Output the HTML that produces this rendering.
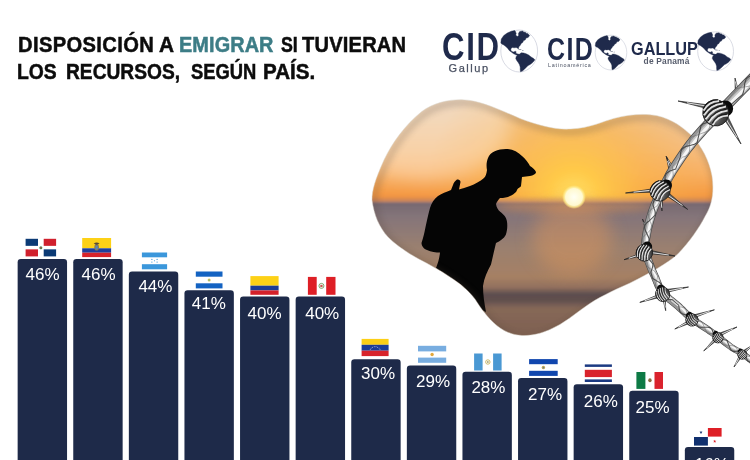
<!DOCTYPE html>
<html lang="es">
<head>
<meta charset="utf-8">
<title>Disposición a emigrar si tuvieran los recursos, según país</title>
<style>
html,body{margin:0;padding:0;background:#fff;}
body{width:750px;height:460px;overflow:hidden;position:relative;font-family:"Liberation Sans",sans-serif;}
#stage{position:absolute;left:0;top:0;width:750px;height:460px;overflow:hidden;background:#fff;}
#gfx{position:absolute;left:0;top:0;}
h1{position:absolute;margin:0;left:0;top:0;font-weight:bold;font-size:21.2px;line-height:24px;color:#0c0c0c;white-space:nowrap;-webkit-text-stroke:0.5px currentColor;}
h1 span{position:absolute;display:block;transform-origin:0 0;}
h1 em{font-style:normal;color:#3d7d86;}
.pct{position:absolute;width:60px;margin-left:-30px;text-align:center;color:#fff;font-size:17px;line-height:17px;}
.lg{position:absolute;white-space:nowrap;color:#1f2a4b;font-weight:bold;transform-origin:0 0;}
.sub{position:absolute;white-space:nowrap;color:#4b5263;transform-origin:0 0;}
</style>
</head>
<body>
<div id="stage">
<svg id="gfx" width="750" height="460" viewBox="0 0 750 460">
<defs>
<linearGradient id="sky" x1="0" y1="0" x2="0" y2="1">
<stop offset="0" stop-color="#e2cab2"/><stop offset="0.3" stop-color="#eec9a2"/><stop offset="0.55" stop-color="#f5c088"/><stop offset="0.75" stop-color="#f8b168"/><stop offset="0.9" stop-color="#f59d48"/><stop offset="1" stop-color="#ef8c3a"/>
</linearGradient>
<radialGradient id="glow" cx="574" cy="197" r="150" gradientUnits="userSpaceOnUse">
<stop offset="0" stop-color="#ffe066"/><stop offset="0.18" stop-color="#ffca48" stop-opacity="0.97"/><stop offset="0.5" stop-color="#fbb548" stop-opacity="0.62"/><stop offset="1" stop-color="#f6a545" stop-opacity="0"/>
</radialGradient>
<linearGradient id="sea" x1="0" y1="0" x2="0" y2="1">
<stop offset="0" stop-color="#766870"/><stop offset="0.1" stop-color="#85757a"/><stop offset="0.3" stop-color="#9a8070"/><stop offset="0.5" stop-color="#a68064"/><stop offset="0.57" stop-color="#91705e"/><stop offset="0.615" stop-color="#5c4d4f"/><stop offset="0.655" stop-color="#61504e"/><stop offset="0.71" stop-color="#866858"/><stop offset="0.85" stop-color="#806252"/><stop offset="1" stop-color="#8e6a54"/>
</linearGradient>
<radialGradient id="sun" cx="574" cy="197" r="12" gradientUnits="userSpaceOnUse">
<stop offset="0" stop-color="#fffff4"/><stop offset="0.7" stop-color="#fff9d0"/><stop offset="0.85" stop-color="#ffeb8c" stop-opacity="0.8"/><stop offset="1" stop-color="#ffe27a" stop-opacity="0"/>
</radialGradient>
<filter id="b4" x="-20%" y="-100%" width="140%" height="300%"><feGaussianBlur stdDeviation="4"/></filter>
<filter id="b2" x="-10%" y="-10%" width="120%" height="120%"><feGaussianBlur stdDeviation="3"/></filter>
<filter id="b1" x="-5%" y="-5%" width="110%" height="110%"><feGaussianBlur stdDeviation="1.3"/></filter>
<linearGradient id="haze" x1="0" y1="0" x2="0" y2="1"><stop offset="0" stop-color="#b07f6e" stop-opacity="0"/><stop offset="1" stop-color="#a07a78" stop-opacity="0.75"/></linearGradient>
<filter id="b8" x="-50%" y="-50%" width="200%" height="200%"><feGaussianBlur stdDeviation="9"/></filter>
<clipPath id="blob"><path d="M372,200 C372,190 375,180 384,160 C392,143 405,125 421.5,111.7 C433,103 448,99.5 461.6,99.7 C480,100 500,110 520,118.5 C540,126 556,130 571,129 C590,128 604,121 614,118.4 C630,114 645,113.5 657,115.7 C672,119 684,128 691.7,135.8 C702,147 709,160 712,176 C714,190 713,204 705,216.4 C699,228 690,241 678,253.8 C668,263 650,273 630,283 C612,291 597,298 584.8,307 C572,316 565,322 557,326 C546,332 534,336 522,335.5 C508,335 498,327 492.8,322 C486,315 482,310 475,299 C468,290 462,285 450,277 C440,270 430,265 418.8,259 C406,252 395,244 388,237 C379,227 374,215 372,200 Z"/></clipPath>
</defs>
<g clip-path="url(#blob)">
<g filter="url(#b1)">
<rect x="350" y="85" width="390" height="118" fill="url(#sky)"/>
<rect x="350" y="85" width="390" height="118" fill="url(#glow)"/>
<ellipse cx="425" cy="125" rx="85" ry="55" fill="#fff3e2" opacity="0.35" filter="url(#b8)"/>
<rect x="350" y="202" width="390" height="150" fill="url(#sea)"/>
<rect x="350" y="196" width="390" height="7" fill="url(#haze)"/>
</g>
<ellipse cx="574" cy="206" rx="80" ry="7" fill="#e89a58" opacity="0.45" filter="url(#b4)"/>
<ellipse cx="572" cy="238" rx="40" ry="36" fill="#e89a58" opacity="0.4" filter="url(#b8)"/>
<circle cx="574" cy="197" r="12" fill="url(#sun)"/>
<path d="M506,149 C498,149 490,152 488,158 C486,163 486.5,167 487,170 C486.5,174 485.5,176.5 484,178 C480,181.5 475,184 470,186 C466,187.5 462,188.5 459,189.5 L460.5,182 C460.5,180 458.5,179 457,179.6 C455,181 453.5,183 453,185 L451,190 C446,192 442,193.5 438,196 C434,199 431.5,203 430,208 C428,215 426,225 424.5,232 C423.5,237 422,241 421.5,243 C421.5,246 424,249 427,250 C431,252 436,252.5 440,252.5 C439.5,258 438,263 436,268 L445,275 L460,284 L472,296 L482,310 L486,312 C484.5,304 483,295 483,286 C484,278 487.5,271 491,264.5 C493,256 494.5,249 496,243 C500,241 504,238.5 505.7,235 C507.5,230 507.5,225 507,221.7 C506.5,217 503,214 500.5,212 C498,210 496.5,207.5 496,204 C497,201.5 498.5,199.5 500,198 C504,198 507.5,197.5 510,196 C512.5,195 514.5,193.5 516,192 C517,190.5 517,189.5 518,188.5 C519.5,187.5 520.5,187 521,186 C521.5,183 521.5,180 522,177 L530,176 C533,175.5 536,174 536,172 C535,169.5 532.5,167.5 530,166 C528,162 525.5,159 522,156 C518,152 512,149 506,149 Z" fill="#050505"/>
<path d="M372,200 C372,190 375,180 384,160 C392,143 405,125 421.5,111.7 C433,103 448,99.5 461.6,99.7 C480,100 500,110 520,118.5 C540,126 556,130 571,129 C590,128 604,121 614,118.4 C630,114 645,113.5 657,115.7 C672,119 684,128 691.7,135.8 C702,147 709,160 712,176 C714,190 713,204 705,216.4 C699,228 690,241 678,253.8 C668,263 650,273 630,283 C612,291 597,298 584.8,307 C572,316 565,322 557,326 C546,332 534,336 522,335.5 C508,335 498,327 492.8,322 C486,315 482,310 475,299 C468,290 462,285 450,277 C440,270 430,265 418.8,259 C406,252 395,244 388,237 C379,227 374,215 372,200 Z" transform="translate(2.2,2.8)" fill="none" stroke="#4b4038" stroke-width="6" opacity="0.24" filter="url(#b2)"/>
</g>
<path d="M372,200 C372,190 375,180 384,160 C392,143 405,125 421.5,111.7 C433,103 448,99.5 461.6,99.7 C480,100 500,110 520,118.5 C540,126 556,130 571,129 C590,128 604,121 614,118.4 C630,114 645,113.5 657,115.7 C672,119 684,128 691.7,135.8 C702,147 709,160 712,176 C714,190 713,204 705,216.4 C699,228 690,241 678,253.8 C668,263 650,273 630,283 C612,291 597,298 584.8,307 C572,316 565,322 557,326 C546,332 534,336 522,335.5 C508,335 498,327 492.8,322 C486,315 482,310 475,299 C468,290 462,285 450,277 C440,270 430,265 418.8,259 C406,252 395,244 388,237 C379,227 374,215 372,200 Z" fill="none" stroke="#d9d2c8" stroke-width="0.8" opacity="0.6"/>
<path d="M17.65,462 V262.20 Q17.65,259.00 20.85,259.00 H63.85 Q67.05,259.00 67.05,262.20 V462 Z" fill="#1e2a49"/>
<path d="M73.25,462 V262.20 Q73.25,259.00 76.45,259.00 H119.45 Q122.65,259.00 122.65,262.20 V462 Z" fill="#1e2a49"/>
<path d="M128.85,462 V274.74 Q128.85,271.54 132.05,271.54 H175.05 Q178.25,271.54 178.25,274.74 V462 Z" fill="#1e2a49"/>
<path d="M184.45,462 V293.54 Q184.45,290.34 187.65,290.34 H230.65 Q233.85,290.34 233.85,293.54 V462 Z" fill="#1e2a49"/>
<path d="M240.05,462 V299.81 Q240.05,296.61 243.25,296.61 H286.25 Q289.45,296.61 289.45,299.81 V462 Z" fill="#1e2a49"/>
<path d="M295.65,462 V299.81 Q295.65,296.61 298.85,296.61 H341.85 Q345.05,296.61 345.05,299.81 V462 Z" fill="#1e2a49"/>
<path d="M351.25,462 V362.49 Q351.25,359.29 354.45,359.29 H397.45 Q400.65,359.29 400.65,362.49 V462 Z" fill="#1e2a49"/>
<path d="M406.85,462 V368.76 Q406.85,365.56 410.05,365.56 H453.05 Q456.25,365.56 456.25,368.76 V462 Z" fill="#1e2a49"/>
<path d="M462.45,462 V375.02 Q462.45,371.82 465.65,371.82 H508.65 Q511.85,371.82 511.85,375.02 V462 Z" fill="#1e2a49"/>
<path d="M518.05,462 V381.29 Q518.05,378.09 521.25,378.09 H564.25 Q567.45,378.09 567.45,381.29 V462 Z" fill="#1e2a49"/>
<path d="M573.65,462 V387.56 Q573.65,384.36 576.85,384.36 H619.85 Q623.05,384.36 623.05,387.56 V462 Z" fill="#1e2a49"/>
<path d="M629.25,462 V393.83 Q629.25,390.63 632.45,390.63 H675.45 Q678.65,390.63 678.65,393.83 V462 Z" fill="#1e2a49"/>
<path d="M684.85,462 V450.24 Q684.85,447.04 688.05,447.04 H731.05 Q734.25,447.04 734.25,450.24 V462 Z" fill="#1e2a49"/>
<g id="f-do">
<rect x="25.60" y="238.80" width="30.50" height="17.60" fill="#ffffff"/>
<rect x="25.60" y="238.80" width="12.40" height="7.05" fill="#0b3a75"/>
<rect x="43.70" y="238.80" width="12.40" height="7.05" fill="#d0202d"/>
<rect x="25.60" y="249.35" width="12.40" height="7.05" fill="#d0202d"/>
<rect x="43.70" y="249.35" width="12.40" height="7.05" fill="#0b3a75"/>
<circle cx="40.85" cy="247.80" r="1.5" fill="#3f8a55"/><circle cx="40.85" cy="247.70" r="0.7" fill="#c9403f"/>
</g>
<g id="f-ec">
<rect x="82.20" y="238.00" width="28.90" height="10.30" fill="#fdd116"/>
<rect x="82.20" y="248.30" width="28.90" height="4.40" fill="#1f3f9b"/>
<rect x="82.20" y="252.70" width="28.90" height="4.40" fill="#d8232a"/>
<ellipse cx="96.65" cy="247.2" rx="2.3" ry="3.4" fill="#8b7a55"/><ellipse cx="96.65" cy="247.4" rx="1.3" ry="2" fill="#5a86b5"/><path d="M93.65,243.6 Q96.65,241.6 99.65,243.6 L96.65,244.8 Z" fill="#5b4a33"/>
</g>
<g id="f-hn">
<rect x="141.90" y="252.50" width="25.20" height="16.80" fill="#ffffff"/>
<rect x="141.90" y="252.50" width="25.20" height="4.80" fill="#3b97db"/>
<rect x="141.90" y="264.20" width="25.20" height="5.10" fill="#3b97db"/>
<circle cx="154.50" cy="260.75" r="0.6" fill="#3b97db"/>
<circle cx="151.90" cy="259.45" r="0.6" fill="#3b97db"/>
<circle cx="157.10" cy="259.45" r="0.6" fill="#3b97db"/>
<circle cx="151.90" cy="262.05" r="0.6" fill="#3b97db"/>
<circle cx="157.10" cy="262.05" r="0.6" fill="#3b97db"/>
</g>
<g id="f-ni">
<rect x="195.80" y="271.50" width="26.70" height="16.90" fill="#ffffff"/>
<rect x="195.80" y="271.50" width="26.70" height="5.20" fill="#1463c2"/>
<rect x="195.80" y="283.30" width="26.70" height="5.10" fill="#1463c2"/>
<circle cx="209.15" cy="280" r="1.5" fill="#d9c25a"/><path d="M208.15,280.8 L209.15,279 L210.15,280.8 Z" fill="#7fb77a"/>
</g>
<g id="f-co">
<rect x="250.40" y="276.10" width="28.20" height="9.60" fill="#fdd116"/>
<rect x="250.40" y="285.70" width="28.20" height="4.70" fill="#1d3c94"/>
<rect x="250.40" y="290.40" width="28.20" height="4.40" fill="#d4212a"/>
</g>
<g id="f-pe">
<rect x="307.90" y="276.90" width="27.60" height="17.90" fill="#ffffff"/>
<rect x="307.90" y="276.90" width="8.80" height="17.90" fill="#de1f26"/>
<rect x="326.20" y="276.90" width="9.30" height="17.90" fill="#de1f26"/>
<circle cx="321.45" cy="285.9" r="2.5" fill="none" stroke="#6f9d5b" stroke-width="0.9"/><circle cx="321.45" cy="286" r="1.3" fill="#c7564d"/>
</g>
<g id="f-ve">
<rect x="361.60" y="338.90" width="27.00" height="5.90" fill="#fccf16"/>
<rect x="361.60" y="344.80" width="27.00" height="5.90" fill="#1c3c96"/>
<rect x="361.60" y="350.70" width="27.00" height="5.40" fill="#d8232b"/>
<circle cx="370.21" cy="349.27" r="0.45" fill="#ffffff"/>
<circle cx="371.12" cy="348.09" r="0.45" fill="#ffffff"/>
<circle cx="372.50" cy="347.22" r="0.45" fill="#ffffff"/>
<circle cx="374.20" cy="346.76" r="0.45" fill="#ffffff"/>
<circle cx="376.00" cy="346.76" r="0.45" fill="#ffffff"/>
<circle cx="377.70" cy="347.22" r="0.45" fill="#ffffff"/>
<circle cx="379.08" cy="348.09" r="0.45" fill="#ffffff"/>
<circle cx="379.99" cy="349.27" r="0.45" fill="#ffffff"/>
</g>
<g id="f-ar">
<rect x="418.00" y="345.80" width="28.20" height="17.00" fill="#ffffff"/>
<rect x="418.00" y="345.80" width="28.20" height="5.60" fill="#78ade0"/>
<rect x="418.00" y="357.60" width="28.20" height="5.20" fill="#78ade0"/>
<circle cx="432.10" cy="354.5" r="1.7" fill="#e3a83c"/>
</g>
<g id="f-gt">
<rect x="474.10" y="353.50" width="27.50" height="17.00" fill="#ffffff"/>
<rect x="474.10" y="353.50" width="8.50" height="17.00" fill="#4a98d3"/>
<rect x="493.10" y="353.50" width="8.50" height="17.00" fill="#4a98d3"/>
<circle cx="487.85" cy="362" r="2.2" fill="none" stroke="#c8b35a" stroke-width="0.9"/><circle cx="487.85" cy="362" r="0.9" fill="#a8a070"/>
</g>
<g id="f-sv">
<rect x="529.10" y="359.10" width="28.60" height="16.80" fill="#ffffff"/>
<rect x="529.10" y="359.10" width="28.60" height="5.10" fill="#1046ae"/>
<rect x="529.10" y="370.80" width="28.60" height="5.10" fill="#1046ae"/>
<circle cx="543.40" cy="367.5" r="1.7" fill="#c9a94c"/><path d="M542.40,368.3 L543.40,366.5 L544.40,368.3 Z" fill="#4b7bb0"/>
</g>
<g id="f-cr">
<rect x="584.80" y="364.40" width="27.10" height="17.60" fill="#ffffff"/>
<rect x="584.80" y="364.40" width="27.10" height="2.50" fill="#1c3a82"/>
<rect x="584.80" y="369.80" width="27.10" height="7.30" fill="#d9232c"/>
<rect x="584.80" y="379.40" width="27.10" height="2.60" fill="#1c3a82"/>
</g>
<g id="f-mx">
<rect x="636.40" y="372.00" width="26.60" height="16.90" fill="#ffffff"/>
<rect x="636.40" y="372.00" width="9.00" height="16.90" fill="#0d7a45"/>
<rect x="654.50" y="372.00" width="8.50" height="16.90" fill="#da222d"/>
<ellipse cx="649.95" cy="380.3" rx="1.7" ry="2" fill="#8a6b3e"/>
</g>
<g id="f-pa">
<rect x="694.00" y="428.00" width="27.60" height="17.60" fill="#ffffff"/>
<rect x="707.90" y="428.00" width="13.70" height="8.60" fill="#de1f26"/>
<rect x="694.00" y="437.00" width="13.90" height="8.60" fill="#10306e"/>
<polygon points="701.00,430.70 701.42,431.82 702.62,431.87 701.68,432.62 702.00,433.78 701.00,433.11 700.00,433.78 700.32,432.62 699.38,431.87 700.58,431.82" fill="#10306e"/>
<polygon points="714.70,439.70 715.12,440.82 716.32,440.87 715.38,441.62 715.70,442.78 714.70,442.11 713.70,442.78 714.02,441.62 713.08,440.87 714.28,440.82" fill="#de1f26"/>
</g>
<defs>
<radialGradient id="knotg" cx="0.38" cy="0.32" r="0.85"><stop offset="0" stop-color="#9c9c9c"/><stop offset="0.35" stop-color="#4e4e4e"/><stop offset="1" stop-color="#0c0c0c"/></radialGradient>
</defs>
<g id="wire">
<path d="M714.4,105.7 L678.0,101.0 L713.6,110.3 Z" fill="#5e5e5e" stroke="#242424" stroke-width="0.7" stroke-linejoin="round"/><path d="M714.1,107.4 L687.0,102.8" stroke="#ededed" stroke-width="0.9" fill="none"/>
<path d="M724.0,119.1 L741.0,144.0 L728.0,116.9 Z" fill="#5e5e5e" stroke="#242424" stroke-width="0.7" stroke-linejoin="round"/><path d="M725.5,118.3 L737.2,137.5" stroke="#ededed" stroke-width="0.9" fill="none"/>
<path d="M674.5,169.2 L666.0,156.0 L671.5,170.8 Z" fill="#5e5e5e" stroke="#242424" stroke-width="0.7" stroke-linejoin="round"/><path d="M673.4,169.8 L667.8,159.5" stroke="#ededed" stroke-width="0.9" fill="none"/>
<path d="M738.7,91.8 L735.0,78.0 L735.3,92.2 Z" fill="#5e5e5e" stroke="#242424" stroke-width="0.7" stroke-linejoin="round"/><path d="M737.4,91.9 L735.5,81.5" stroke="#ededed" stroke-width="0.9" fill="none"/>
<path d="M657.8,188.0 L625.5,193.0 L658.2,192.0 Z" fill="#5e5e5e" stroke="#242424" stroke-width="0.7" stroke-linejoin="round"/><path d="M658.0,189.5 L633.6,192.2" stroke="#ededed" stroke-width="0.9" fill="none"/>
<path d="M665.8,195.6 L687.7,209.4 L668.2,192.4 Z" fill="#5e5e5e" stroke="#242424" stroke-width="0.7" stroke-linejoin="round"/><path d="M666.7,194.4 L682.5,205.6" stroke="#ededed" stroke-width="0.9" fill="none"/>
<path d="M672.4,172.6 L666.5,157.0 L669.6,173.4 Z" fill="#5e5e5e" stroke="#242424" stroke-width="0.7" stroke-linejoin="round"/><path d="M671.4,172.9 L667.6,161.0" stroke="#ededed" stroke-width="0.9" fill="none"/>
<path d="M659.5,198.1 L662.0,211.0 L662.5,197.9 Z" fill="#5e5e5e" stroke="#242424" stroke-width="0.7" stroke-linejoin="round"/><path d="M660.6,198.0 L661.8,207.8" stroke="#ededed" stroke-width="0.9" fill="none"/>
<path d="M642.5,252.4 L624.0,259.7 L643.5,255.6 Z" fill="#5e5e5e" stroke="#242424" stroke-width="0.7" stroke-linejoin="round"/><path d="M642.9,253.6 L628.8,258.3" stroke="#ededed" stroke-width="0.9" fill="none"/>
<path d="M649.7,253.7 L675.0,256.0 L650.3,250.3 Z" fill="#5e5e5e" stroke="#242424" stroke-width="0.7" stroke-linejoin="round"/><path d="M649.9,252.4 L668.8,255.0" stroke="#ededed" stroke-width="0.9" fill="none"/>
<path d="M649.2,232.5 L642.5,219.0 L646.8,233.5 Z" fill="#5e5e5e" stroke="#242424" stroke-width="0.7" stroke-linejoin="round"/><path d="M648.3,232.9 L643.9,222.5" stroke="#ededed" stroke-width="0.9" fill="none"/>
<path d="M666.3,292.5 L688.5,287.0 L665.7,289.5 Z" fill="#5e5e5e" stroke="#242424" stroke-width="0.7" stroke-linejoin="round"/><path d="M666.1,291.4 L682.9,288.0" stroke="#ededed" stroke-width="0.9" fill="none"/>
<path d="M658.5,294.6 L639.8,302.4 L659.5,297.4 Z" fill="#5e5e5e" stroke="#242424" stroke-width="0.7" stroke-linejoin="round"/><path d="M658.9,295.6 L644.6,300.8" stroke="#ededed" stroke-width="0.9" fill="none"/>
<path d="M662.7,298.2 L665.7,310.7 L665.3,297.8 Z" fill="#5e5e5e" stroke="#242424" stroke-width="0.7" stroke-linejoin="round"/><path d="M663.7,298.0 L665.3,307.5" stroke="#ededed" stroke-width="0.9" fill="none"/>
<path d="M695.4,317.3 L714.4,309.8 L694.6,314.7 Z" fill="#5e5e5e" stroke="#242424" stroke-width="0.7" stroke-linejoin="round"/><path d="M695.1,316.3 L709.5,311.4" stroke="#ededed" stroke-width="0.9" fill="none"/>
<path d="M688.4,320.7 L674.8,329.0 L689.6,323.3 Z" fill="#5e5e5e" stroke="#242424" stroke-width="0.7" stroke-linejoin="round"/><path d="M688.8,321.7 L678.3,327.2" stroke="#ededed" stroke-width="0.9" fill="none"/>
<path d="M721.5,335.2 L737.0,327.0 L720.5,332.8 Z" fill="#5e5e5e" stroke="#242424" stroke-width="0.7" stroke-linejoin="round"/><path d="M721.1,334.3 L733.0,328.8" stroke="#ededed" stroke-width="0.9" fill="none"/>
<path d="M714.1,339.1 L703.7,351.0 L715.9,340.9 Z" fill="#5e5e5e" stroke="#242424" stroke-width="0.7" stroke-linejoin="round"/><path d="M714.8,339.8 L706.5,348.2" stroke="#ededed" stroke-width="0.9" fill="none"/>
<path d="M745.7,352.0 L753.0,345.0 L744.3,350.0 Z" fill="#5e5e5e" stroke="#242424" stroke-width="0.7" stroke-linejoin="round"/><path d="M745.2,351.2 L751.0,346.5" stroke="#ededed" stroke-width="0.9" fill="none"/>
<path d="M739.0,356.4 L734.0,367.0 L741.0,357.6 Z" fill="#5e5e5e" stroke="#242424" stroke-width="0.7" stroke-linejoin="round"/><path d="M739.7,356.8 L735.5,364.5" stroke="#ededed" stroke-width="0.9" fill="none"/>
<path d="M760.0,78.9 L758.2,80.7 L755.9,83.0 L753.3,85.7 L750.2,88.8 L747.0,92.1 L743.6,95.6 L740.0,99.2 L723.9,115.8 L721.3,118.4 L718.9,120.9 L716.5,123.3 L714.2,125.7 L712.0,128.0 L709.8,130.2 L707.8,132.3 L697.9,143.4 L696.1,145.5 L694.3,147.9 L692.4,150.2 L690.6,152.6 L688.9,154.9 L687.2,157.3 L685.6,159.6 L678.1,170.7 L676.9,172.6 L675.7,174.5 L674.6,176.4 L673.5,178.2 L672.5,180.0 L671.6,181.8 L670.7,183.5 L666.5,191.7 L665.7,193.2 L664.9,194.6 L664.3,196.0 L663.6,197.2 L663.0,198.5 L662.4,199.6 L661.9,200.7 L659.2,206.8 L658.7,208.0 L658.2,209.2 L657.7,210.5 L657.2,211.8 L656.8,213.0 L656.3,214.3 L655.9,215.5 L653.8,222.2 L653.5,223.5 L653.1,224.9 L652.7,226.3 L652.4,227.7 L652.0,229.2 L651.7,230.6 L651.4,231.9 L650.2,238.7 L650.0,239.8 L649.9,240.9 L649.8,242.0 L649.6,243.0 L649.6,244.0 L649.5,244.9 L649.4,245.5 L649.7,250.7 L649.8,251.3 L650.1,252.4 L650.3,253.4 L650.6,254.5 L651.0,255.6 L651.3,256.7 L651.7,257.9 L653.8,263.6 L654.2,264.6 L654.6,265.6 L654.9,266.6 L655.3,267.5 L655.6,268.4 L656.0,269.3 L656.4,270.2 L658.7,275.4 L659.2,276.6 L659.7,277.9 L660.2,279.2 L660.7,280.5 L661.2,281.8 L661.7,283.1 L662.1,284.1 L665.8,290.4 L666.4,291.1 L667.4,292.1 L668.5,293.2 L669.7,294.3 L671.0,295.3 L672.3,296.4 L673.7,297.6 L680.4,303.1 L681.8,304.3 L682.9,305.4 L684.1,306.5 L685.2,307.6 L686.3,308.7 L687.3,309.8 L688.3,310.7 L693.9,315.7 L694.9,316.5 L696.2,317.4 L697.4,318.3 L698.7,319.3 L700.1,320.2 L701.4,321.0 L702.8,321.9 L708.9,326.1 L710.0,326.8 L711.0,327.5 L711.9,328.2 L712.8,328.8 L713.6,329.4 L714.4,329.9 L715.2,330.5 L719.5,333.8 L720.6,334.6 L721.7,335.5 L722.8,336.4 L724.0,337.3 L725.1,338.2 L726.3,339.2 L727.4,340.1 L733.0,344.4 L733.8,344.9 L734.7,345.5 L735.5,346.0 L736.3,346.5 L737.2,346.9 L738.0,347.4 L739.0,347.9 L743.7,350.7 L745.0,351.6 L746.2,352.5 L747.5,353.5 L748.9,354.5 L750.3,355.6 L751.6,356.6 L752.9,357.6 L757.9,361.5 L754.1,366.5 L749.1,362.7 L747.8,361.7 L746.4,360.7 L745.0,359.7 L743.7,358.7 L742.4,357.7 L741.2,356.9 L740.3,356.3 L735.7,353.5 L734.9,353.1 L734.1,352.7 L733.1,352.2 L732.2,351.6 L731.2,351.1 L730.2,350.4 L729.0,349.6 L723.4,345.4 L722.1,344.4 L720.9,343.5 L719.8,342.6 L718.6,341.6 L717.5,340.8 L716.5,340.0 L715.5,339.2 L711.1,336.1 L710.4,335.6 L709.6,335.0 L708.8,334.5 L707.9,333.9 L707.0,333.3 L706.0,332.6 L705.1,331.9 L698.8,327.9 L697.5,327.1 L696.1,326.2 L694.7,325.3 L693.3,324.3 L691.9,323.4 L690.5,322.4 L689.1,321.3 L683.3,316.3 L682.2,315.1 L681.1,314.1 L680.0,313.0 L678.9,312.0 L677.7,310.9 L676.6,309.9 L675.6,308.9 L668.9,303.5 L667.5,302.5 L666.0,301.3 L664.6,300.1 L663.2,298.9 L661.9,297.6 L660.6,296.3 L659.2,294.6 L655.2,287.9 L654.4,286.2 L653.9,284.8 L653.3,283.4 L652.8,282.1 L652.3,280.9 L651.8,279.7 L651.3,278.6 L649.0,273.5 L648.6,272.5 L648.2,271.5 L647.8,270.5 L647.4,269.5 L647.0,268.5 L646.6,267.5 L646.2,266.4 L644.0,260.7 L643.6,259.4 L643.2,258.1 L642.8,256.8 L642.4,255.6 L642.0,254.2 L641.7,252.9 L641.5,251.3 L641.1,245.9 L641.1,244.5 L641.2,243.3 L641.3,242.2 L641.4,241.1 L641.5,239.9 L641.6,238.7 L641.8,237.3 L642.9,230.4 L643.3,228.8 L643.6,227.3 L643.9,225.8 L644.3,224.2 L644.6,222.7 L645.0,221.3 L645.4,219.8 L647.4,212.9 L647.8,211.5 L648.3,210.1 L648.8,208.7 L649.3,207.4 L649.8,206.0 L650.3,204.7 L650.8,203.2 L653.5,197.0 L654.1,195.7 L654.7,194.4 L655.3,193.1 L656.0,191.8 L656.7,190.4 L657.4,189.0 L658.1,187.5 L662.2,179.2 L663.1,177.4 L664.1,175.5 L665.1,173.6 L666.2,171.6 L667.4,169.6 L668.6,167.5 L669.9,165.3 L677.3,154.0 L679.0,151.5 L680.7,149.1 L682.5,146.6 L684.3,144.1 L686.2,141.6 L688.1,139.2 L690.1,136.6 L700.0,125.3 L702.2,122.9 L704.3,120.6 L706.5,118.3 L708.8,115.9 L711.2,113.5 L713.6,110.9 L716.1,108.2 L732.2,91.5 L735.7,87.9 L739.1,84.4 L742.3,81.1 L745.3,78.0 L748.0,75.3 L750.3,72.9 L752.0,71.1 Z" fill="#4a4a4a"/>
<path d="M759.4,78.3 L757.6,80.1 L755.3,82.4 L752.7,85.1 L749.6,88.2 L746.4,91.5 L743.0,95.0 L739.5,98.6 L723.3,115.2 L720.8,117.8 L718.3,120.3 L715.9,122.8 L713.6,125.1 L711.4,127.4 L709.2,129.6 L707.2,131.8 L697.3,142.9 L695.5,145.1 L693.6,147.4 L691.8,149.7 L690.0,152.1 L688.3,154.5 L686.6,156.8 L685.0,159.1 L677.5,170.3 L676.2,172.2 L675.1,174.1 L673.9,176.0 L672.9,177.9 L671.9,179.7 L670.9,181.5 L670.0,183.2 L665.8,191.4 L665.0,192.9 L664.3,194.3 L663.6,195.6 L663.0,196.9 L662.4,198.1 L661.8,199.3 L661.2,200.4 L658.5,206.5 L658.1,207.7 L657.5,209.0 L657.1,210.3 L656.6,211.5 L656.1,212.8 L655.7,214.1 L655.2,215.3 L653.2,222.1 L652.8,223.3 L652.5,224.7 L652.1,226.1 L651.7,227.6 L651.4,229.0 L651.1,230.5 L650.8,231.8 L649.6,238.6 L649.4,239.7 L649.3,240.8 L649.1,241.9 L649.0,242.9 L648.9,243.9 L648.9,244.9 L648.8,245.5 L649.1,250.7 L649.2,251.5 L649.5,252.5 L649.7,253.6 L650.0,254.7 L650.4,255.8 L650.8,256.9 L651.1,258.1 L653.2,263.8 L653.6,264.9 L654.0,265.9 L654.4,266.8 L654.7,267.7 L655.1,268.7 L655.5,269.6 L655.8,270.5 L658.1,275.6 L658.6,276.9 L659.2,278.1 L659.7,279.4 L660.2,280.8 L660.7,282.1 L661.2,283.3 L661.6,284.4 L665.3,290.7 L666.0,291.5 L667.0,292.5 L668.1,293.6 L669.3,294.7 L670.6,295.8 L671.9,296.9 L673.3,298.0 L680.1,303.5 L681.4,304.7 L682.5,305.8 L683.7,306.9 L684.8,308.0 L685.9,309.1 L687.0,310.2 L687.9,311.1 L693.5,316.1 L694.6,317.0 L695.8,317.9 L697.1,318.8 L698.4,319.7 L699.8,320.6 L701.1,321.5 L702.5,322.4 L708.6,326.5 L709.7,327.3 L710.7,328.0 L711.6,328.6 L712.5,329.2 L713.3,329.8 L714.1,330.4 L714.9,331.0 L719.2,334.2 L720.3,335.0 L721.4,335.9 L722.5,336.8 L723.7,337.7 L724.8,338.6 L726.0,339.6 L727.1,340.5 L732.7,344.8 L733.5,345.3 L734.4,345.9 L735.3,346.4 L736.1,346.9 L736.9,347.3 L737.8,347.8 L738.7,348.3 L743.4,351.2 L744.7,352.0 L745.9,352.9 L747.2,353.9 L748.6,354.9 L750.0,356.0 L751.3,357.0 L752.6,358.0 L757.6,361.9 L754.4,366.1 L749.4,362.3 L748.0,361.3 L746.7,360.3 L745.3,359.3 L744.0,358.3 L742.7,357.4 L741.5,356.5 L740.6,355.8 L735.9,353.1 L735.2,352.7 L734.3,352.2 L733.4,351.7 L732.5,351.2 L731.5,350.6 L730.5,350.0 L729.3,349.2 L723.7,345.0 L722.4,344.0 L721.3,343.1 L720.1,342.2 L718.9,341.2 L717.8,340.4 L716.8,339.6 L715.8,338.8 L711.4,335.7 L710.7,335.1 L709.9,334.6 L709.1,334.0 L708.2,333.4 L707.3,332.8 L706.3,332.2 L705.4,331.5 L699.1,327.5 L697.8,326.6 L696.4,325.7 L695.0,324.8 L693.6,323.9 L692.2,322.9 L690.9,321.9 L689.5,320.9 L683.7,315.8 L682.5,314.7 L681.4,313.7 L680.4,312.6 L679.3,311.5 L678.1,310.5 L677.0,309.4 L675.9,308.5 L669.2,303.1 L667.8,302.0 L666.4,300.9 L665.0,299.7 L663.6,298.5 L662.3,297.2 L661.0,295.9 L659.7,294.3 L655.8,287.7 L655.0,286.0 L654.4,284.6 L653.9,283.2 L653.4,281.9 L652.9,280.7 L652.4,279.5 L651.9,278.4 L649.6,273.2 L649.1,272.2 L648.7,271.3 L648.3,270.3 L647.9,269.3 L647.6,268.3 L647.2,267.3 L646.8,266.2 L644.6,260.5 L644.2,259.2 L643.7,257.9 L643.3,256.7 L643.0,255.4 L642.6,254.1 L642.4,252.8 L642.1,251.3 L641.7,245.9 L641.7,244.5 L641.8,243.4 L641.9,242.3 L642.0,241.1 L642.1,240.0 L642.3,238.8 L642.4,237.4 L643.6,230.5 L643.9,228.9 L644.2,227.4 L644.6,225.9 L644.9,224.4 L645.3,222.9 L645.6,221.4 L646.0,219.9 L648.0,213.1 L648.5,211.7 L648.9,210.3 L649.4,209.0 L649.9,207.6 L650.4,206.3 L650.9,204.9 L651.5,203.5 L654.1,197.3 L654.7,196.0 L655.3,194.7 L656.0,193.4 L656.6,192.1 L657.3,190.7 L658.0,189.3 L658.8,187.8 L662.8,179.5 L663.8,177.7 L664.7,175.9 L665.8,173.9 L666.8,172.0 L668.0,170.0 L669.2,167.9 L670.5,165.7 L677.9,154.4 L679.6,152.0 L681.4,149.5 L683.1,147.0 L684.9,144.6 L686.8,142.1 L688.7,139.6 L690.7,137.1 L700.6,125.8 L702.8,123.5 L704.9,121.2 L707.1,118.9 L709.4,116.5 L711.7,114.0 L714.2,111.5 L716.7,108.8 L732.8,92.1 L736.3,88.5 L739.7,85.0 L742.9,81.6 L745.9,78.6 L748.6,75.8 L750.9,73.5 L752.6,71.7 Z" fill="#969696"/>
<path d="M759.0,77.9 L757.2,79.7 L755.0,82.1 L752.3,84.8 L749.3,87.8 L746.0,91.2 L742.6,94.6 L739.1,98.2 L722.9,114.8 L720.4,117.5 L717.9,120.0 L715.6,122.4 L713.3,124.8 L711.0,127.1 L708.9,129.3 L706.9,131.4 L696.9,142.5 L695.1,144.8 L693.3,147.1 L691.4,149.5 L689.7,151.8 L687.9,154.2 L686.2,156.6 L684.6,158.9 L677.1,170.0 L675.8,172.0 L674.7,173.9 L673.5,175.8 L672.5,177.6 L671.5,179.5 L670.5,181.2 L669.6,183.0 L665.4,191.2 L664.7,192.7 L663.9,194.1 L663.2,195.4 L662.6,196.7 L662.0,198.0 L661.4,199.2 L660.8,200.3 L658.1,206.4 L657.7,207.6 L657.1,208.8 L656.7,210.1 L656.2,211.4 L655.7,212.7 L655.3,214.0 L654.8,215.2 L652.8,221.9 L652.4,223.2 L652.1,224.6 L651.7,226.1 L651.3,227.5 L651.0,228.9 L650.7,230.4 L650.4,231.7 L649.2,238.5 L649.0,239.6 L648.9,240.8 L648.7,241.9 L648.6,242.9 L648.5,243.9 L648.5,244.8 L648.4,245.6 L648.7,250.7 L648.9,251.5 L649.1,252.6 L649.3,253.7 L649.7,254.8 L650.0,255.9 L650.4,257.1 L650.8,258.2 L652.9,263.9 L653.3,265.0 L653.6,266.0 L654.0,266.9 L654.4,267.9 L654.7,268.8 L655.1,269.7 L655.5,270.6 L657.8,275.8 L658.3,277.0 L658.8,278.3 L659.3,279.6 L659.8,280.9 L660.3,282.2 L660.8,283.5 L661.3,284.5 L665.0,290.9 L665.7,291.7 L666.7,292.8 L667.8,293.9 L669.1,295.0 L670.4,296.1 L671.7,297.2 L673.1,298.3 L679.8,303.8 L681.1,305.0 L682.3,306.1 L683.4,307.2 L684.5,308.3 L685.6,309.4 L686.7,310.4 L687.7,311.4 L693.3,316.4 L694.4,317.2 L695.6,318.2 L696.9,319.1 L698.2,320.0 L699.6,320.9 L700.9,321.8 L702.3,322.7 L708.5,326.8 L709.5,327.5 L710.5,328.2 L711.4,328.9 L712.3,329.5 L713.1,330.0 L713.9,330.6 L714.7,331.2 L719.0,334.4 L720.1,335.3 L721.2,336.1 L722.3,337.0 L723.5,337.9 L724.6,338.9 L725.8,339.8 L726.9,340.8 L732.5,345.0 L733.4,345.6 L734.2,346.2 L735.1,346.7 L735.9,347.2 L736.8,347.6 L737.6,348.1 L738.6,348.6 L743.3,351.4 L744.5,352.3 L745.7,353.2 L747.1,354.1 L748.4,355.2 L749.8,356.2 L751.1,357.2 L752.5,358.3 L757.4,362.1 L755.4,364.8 L750.4,361.0 L749.0,360.0 L747.7,359.0 L746.3,357.9 L745.0,356.9 L743.7,356.0 L742.5,355.1 L741.4,354.4 L736.8,351.6 L736.0,351.2 L735.1,350.7 L734.2,350.3 L733.3,349.7 L732.4,349.2 L731.4,348.6 L730.3,347.9 L724.7,343.6 L723.5,342.7 L722.3,341.7 L721.2,340.8 L720.0,339.9 L718.9,339.0 L717.8,338.2 L716.8,337.4 L712.5,334.2 L711.7,333.7 L710.9,333.1 L710.1,332.6 L709.2,332.0 L708.3,331.3 L707.4,330.7 L706.4,330.0 L700.1,325.9 L698.8,325.1 L697.4,324.2 L696.0,323.3 L694.7,322.3 L693.3,321.4 L692.0,320.4 L690.7,319.4 L685.0,314.4 L683.9,313.3 L682.8,312.3 L681.7,311.2 L680.6,310.1 L679.5,309.1 L678.3,308.0 L677.2,307.0 L670.5,301.5 L669.1,300.4 L667.7,299.3 L666.3,298.2 L665.0,297.0 L663.7,295.8 L662.6,294.6 L661.4,293.2 L657.5,286.6 L656.9,285.2 L656.3,283.8 L655.8,282.5 L655.3,281.2 L654.8,279.9 L654.3,278.7 L653.8,277.5 L651.5,272.4 L651.1,271.4 L650.7,270.5 L650.3,269.5 L649.9,268.5 L649.5,267.6 L649.1,266.5 L648.7,265.5 L646.6,259.7 L646.2,258.5 L645.8,257.3 L645.4,256.1 L645.0,254.8 L644.7,253.6 L644.5,252.4 L644.2,251.1 L643.9,245.8 L643.9,244.6 L644.0,243.5 L644.1,242.5 L644.2,241.4 L644.3,240.2 L644.5,239.0 L644.6,237.8 L645.8,230.9 L646.1,229.4 L646.4,227.9 L646.8,226.4 L647.1,224.9 L647.5,223.5 L647.8,222.0 L648.2,220.6 L650.2,213.8 L650.7,212.4 L651.1,211.1 L651.6,209.7 L652.1,208.4 L652.6,207.1 L653.1,205.8 L653.6,204.4 L656.3,198.2 L656.9,197.0 L657.5,195.8 L658.1,194.5 L658.8,193.2 L659.4,191.8 L660.2,190.4 L660.9,188.9 L665.0,180.7 L666.0,178.9 L666.9,177.0 L667.9,175.1 L669.0,173.2 L670.1,171.2 L671.4,169.2 L672.7,167.1 L680.1,155.9 L681.8,153.4 L683.5,151.0 L685.2,148.6 L687.0,146.1 L688.9,143.7 L690.8,141.3 L692.7,138.9 L702.6,127.6 L704.7,125.4 L706.9,123.1 L709.1,120.8 L711.4,118.4 L713.7,116.0 L716.2,113.4 L718.7,110.8 L734.8,94.1 L738.3,90.5 L741.7,87.0 L745.0,83.7 L748.0,80.6 L750.7,77.8 L752.9,75.5 L754.7,73.7 Z" fill="#c6c6c6"/>
<path d="M758.3,77.2 L756.5,79.0 L754.2,81.3 L751.5,84.1 L748.5,87.1 L745.3,90.4 L741.8,93.9 L738.3,97.5 L722.2,114.1 L719.7,116.8 L717.2,119.3 L714.8,121.7 L712.5,124.1 L710.3,126.4 L708.2,128.6 L706.1,130.8 L696.2,141.9 L694.4,144.2 L692.5,146.5 L690.7,148.9 L688.9,151.3 L687.1,153.7 L685.4,156.0 L683.8,158.4 L676.3,169.5 L675.1,171.5 L673.9,173.4 L672.8,175.3 L671.7,177.2 L670.7,179.0 L669.7,180.8 L668.8,182.6 L664.7,190.8 L663.9,192.3 L663.1,193.7 L662.5,195.1 L661.8,196.3 L661.2,197.6 L660.6,198.8 L660.1,199.9 L657.4,206.0 L656.9,207.2 L656.4,208.5 L655.9,209.8 L655.4,211.1 L654.9,212.4 L654.5,213.7 L654.0,215.0 L652.0,221.7 L651.6,223.0 L651.3,224.4 L650.9,225.9 L650.5,227.3 L650.2,228.8 L649.9,230.2 L649.6,231.6 L648.4,238.4 L648.2,239.5 L648.1,240.7 L647.9,241.8 L647.8,242.8 L647.7,243.8 L647.7,244.8 L647.6,245.6 L647.9,250.8 L648.1,251.7 L648.3,252.8 L648.6,253.9 L648.9,255.0 L649.3,256.1 L649.7,257.3 L650.1,258.5 L652.2,264.2 L652.5,265.3 L652.9,266.3 L653.3,267.2 L653.7,268.2 L654.0,269.1 L654.4,270.0 L654.8,270.9 L657.1,276.1 L657.6,277.3 L658.1,278.6 L658.6,279.9 L659.1,281.2 L659.6,282.5 L660.2,283.8 L660.6,284.9 L664.4,291.3 L665.2,292.2 L666.2,293.3 L667.4,294.4 L668.6,295.5 L669.9,296.6 L671.2,297.7 L672.6,298.9 L679.4,304.3 L680.6,305.5 L681.8,306.6 L682.9,307.7 L684.1,308.8 L685.1,309.9 L686.2,310.9 L687.2,311.9 L692.9,316.9 L694.0,317.8 L695.2,318.7 L696.5,319.6 L697.8,320.6 L699.2,321.5 L700.5,322.4 L701.9,323.2 L708.1,327.3 L709.2,328.1 L710.1,328.8 L711.0,329.4 L711.9,330.0 L712.7,330.6 L713.5,331.2 L714.3,331.7 L718.6,335.0 L719.7,335.8 L720.8,336.6 L721.9,337.5 L723.1,338.4 L724.2,339.4 L725.4,340.3 L726.5,341.3 L732.1,345.5 L733.0,346.1 L733.9,346.7 L734.8,347.2 L735.6,347.7 L736.5,348.2 L737.3,348.6 L738.3,349.1 L743.0,351.9 L744.2,352.8 L745.4,353.7 L746.7,354.6 L748.1,355.6 L749.4,356.7 L750.8,357.7 L752.1,358.7 L757.1,362.6 L756.0,364.0 L751.0,360.2 L749.7,359.2 L748.3,358.1 L747.0,357.1 L745.6,356.1 L744.3,355.1 L743.1,354.3 L742.0,353.5 L737.3,350.7 L736.5,350.2 L735.6,349.8 L734.7,349.3 L733.9,348.8 L732.9,348.3 L732.0,347.7 L731.0,347.0 L725.4,342.8 L724.2,341.8 L723.0,340.9 L721.9,339.9 L720.7,339.0 L719.6,338.1 L718.5,337.3 L717.5,336.5 L713.2,333.3 L712.4,332.8 L711.6,332.2 L710.8,331.6 L709.9,331.0 L709.0,330.4 L708.0,329.7 L707.0,329.0 L700.8,324.9 L699.4,324.1 L698.1,323.2 L696.7,322.3 L695.4,321.3 L694.0,320.4 L692.7,319.5 L691.5,318.5 L685.8,313.5 L684.8,312.4 L683.7,311.4 L682.6,310.3 L681.5,309.2 L680.3,308.2 L679.2,307.1 L678.0,306.0 L671.3,300.5 L669.9,299.4 L668.5,298.3 L667.1,297.2 L665.9,296.0 L664.6,294.9 L663.5,293.7 L662.5,292.5 L658.7,286.0 L658.1,284.7 L657.5,283.3 L657.0,282.0 L656.5,280.7 L656.0,279.4 L655.5,278.2 L655.0,277.0 L652.7,271.9 L652.3,270.9 L651.9,270.0 L651.5,269.0 L651.1,268.1 L650.8,267.1 L650.4,266.1 L650.0,265.0 L647.9,259.3 L647.5,258.1 L647.1,256.9 L646.7,255.7 L646.3,254.5 L646.0,253.3 L645.8,252.1 L645.6,251.0 L645.3,245.7 L645.3,244.7 L645.4,243.6 L645.5,242.6 L645.6,241.5 L645.7,240.4 L645.8,239.2 L646.0,238.0 L647.2,231.1 L647.5,229.7 L647.8,228.2 L648.1,226.7 L648.5,225.3 L648.9,223.8 L649.2,222.4 L649.6,221.0 L651.6,214.2 L652.1,212.9 L652.5,211.6 L653.0,210.3 L653.5,208.9 L654.0,207.6 L654.5,206.3 L655.0,205.0 L657.7,198.9 L658.3,197.6 L658.9,196.4 L659.5,195.2 L660.1,193.9 L660.8,192.5 L661.5,191.1 L662.3,189.6 L666.4,181.4 L667.4,179.6 L668.3,177.8 L669.3,175.9 L670.4,174.0 L671.5,172.0 L672.7,170.0 L674.0,168.0 L681.4,156.8 L683.1,154.4 L684.8,152.0 L686.6,149.6 L688.4,147.1 L690.2,144.7 L692.1,142.4 L694.0,140.0 L703.9,128.8 L706.0,126.6 L708.2,124.3 L710.4,122.0 L712.7,119.6 L715.0,117.2 L717.5,114.6 L720.0,112.0 L736.1,95.3 L739.6,91.8 L743.0,88.2 L746.3,84.9 L749.3,81.9 L752.0,79.1 L754.2,76.8 L756.0,75.0 Z" fill="#f6f6f6"/>
<path d="M756.0,75.0 L752.8,75.4 L749.2,76.4 L746.2,78.8 L744.7,83.4 L744.1,89.3 L742.6,94.7 L738.6,97.8 L721.2,113.2 L720.3,117.3 L718.0,120.1 L714.6,121.5 L710.5,122.1 L706.4,122.7 L703.1,123.8 L700.9,126.1 L697.1,142.7 L694.4,144.2 L690.9,145.2 L687.1,146.1 L683.8,147.5 L681.6,149.6 L680.6,152.6 L680.6,156.2 L675.6,169.1 L672.7,170.1 L669.9,171.1 L667.6,172.4 L666.0,174.1 L665.1,176.1 L665.0,178.4 L665.3,180.8 L665.6,191.3 L664.4,192.6 L662.9,193.6 L661.2,194.4 L659.5,195.2 L657.9,196.0 L656.4,196.7 L655.0,197.7 L652.9,204.1 L653.3,205.8 L653.8,207.6 L654.4,209.3 L654.9,210.9 L655.2,212.5 L655.3,214.0 L655.0,215.3 L649.2,220.9 L647.7,222.0 L646.4,223.2 L645.4,224.5 L644.8,225.9 L644.6,227.5 L644.9,229.1 L645.5,230.8 L649.1,238.5 L649.2,239.7 L649.0,240.8 L648.5,241.8 L647.9,242.8 L647.2,243.8 L646.3,244.7 L645.4,245.7 L642.4,251.3 L642.5,252.8 L643.0,254.0 L643.7,255.2 L644.8,256.2 L646.1,257.2 L647.4,258.1 L648.8,258.9 L652.9,263.9 L652.9,265.1 L652.7,266.3 L652.4,267.6 L652.0,268.8 L651.6,270.1 L651.2,271.4 L650.9,272.6 L652.5,278.1 L653.6,279.0 L655.0,279.8 L656.5,280.7 L658.1,281.6 L659.5,282.5 L660.7,283.5 L661.4,284.5 L661.5,293.1 L661.9,295.2 L662.6,297.0 L663.8,298.3 L665.4,299.2 L667.5,299.5 L669.8,299.6 L672.1,299.6 L678.7,305.2 L679.0,307.3 L679.3,309.3 L679.7,311.0 L680.5,312.4 L681.6,313.5 L683.1,314.1 L684.9,314.5 L693.4,316.3 L694.3,317.4 L695.0,319.1 L695.5,321.1 L696.1,323.1 L696.9,325.0 L697.9,326.4 L699.3,327.3 L708.1,327.3 L709.5,327.6 L710.6,328.1 L711.4,328.8 L712.1,329.8 L712.5,330.8 L712.9,332.0 L713.3,333.2 L715.9,338.7 L717.0,339.3 L718.5,339.6 L720.2,339.6 L722.1,339.6 L724.0,339.7 L725.7,340.0 L727.0,340.6 L730.1,348.3 L730.8,349.5 L731.6,350.5 L732.5,351.1 L733.6,351.4 L734.7,351.4 L735.9,351.3 L737.1,351.1 L743.4,351.3 L744.5,352.4 L745.2,353.9 L745.8,355.8 L746.3,357.9 L747.1,359.8 L748.1,361.2 L749.7,361.9 L757.3,362.3" fill="none" stroke="#3a3a3a" stroke-width="1.1" opacity="0.85"/>
<path d="M756.0,75.0 L755.7,78.2 L754.8,81.9 L752.4,84.9 L747.9,86.5 L742.0,87.2 L736.6,88.8 L733.6,92.9 L718.8,110.8 L714.7,112.0 L712.0,114.3 L710.7,117.8 L710.3,121.9 L709.9,125.9 L708.9,129.3 L706.9,131.5 L690.9,137.3 L689.7,140.5 L689.6,144.2 L689.7,148.2 L689.4,151.6 L688.1,154.3 L685.6,156.2 L682.3,157.3 L672.4,166.9 L672.7,170.0 L673.1,173.0 L673.2,175.6 L672.7,177.7 L671.5,179.5 L669.7,180.8 L667.6,181.9 L659.0,187.9 L658.7,189.6 L658.7,191.4 L659.0,193.3 L659.4,195.1 L659.8,196.9 L660.1,198.6 L660.3,200.0 L657.1,205.9 L655.7,206.8 L654.1,207.7 L652.5,208.6 L651.1,209.6 L649.8,210.6 L648.8,211.8 L648.2,213.2 L650.0,221.1 L650.7,222.8 L651.3,224.4 L651.6,226.0 L651.5,227.5 L651.0,228.9 L650.1,230.2 L648.9,231.5 L642.9,237.5 L642.5,238.8 L642.4,240.0 L642.6,241.2 L643.0,242.4 L643.6,243.5 L644.3,244.6 L645.1,245.7 L648.8,250.7 L649.0,251.5 L649.1,252.6 L649.0,253.8 L648.6,255.1 L648.1,256.5 L647.5,258.1 L646.9,259.6 L647.1,266.1 L647.9,267.0 L648.8,267.8 L649.9,268.5 L651.1,269.2 L652.2,269.8 L653.4,270.4 L654.5,271.1 L657.5,275.9 L657.4,277.4 L657.1,279.0 L656.5,280.7 L656.0,282.4 L655.5,284.1 L655.5,285.8 L655.9,287.6 L663.5,291.9 L665.2,292.2 L666.7,292.8 L668.0,293.8 L668.9,295.2 L669.5,297.1 L670.0,299.3 L670.5,301.5 L677.3,306.8 L679.4,306.9 L681.4,307.0 L683.2,307.5 L684.6,308.2 L685.7,309.3 L686.4,310.8 L686.8,312.5 L689.6,320.7 L691.2,321.5 L693.1,321.7 L695.2,321.6 L697.3,321.4 L699.2,321.4 L701.0,321.7 L702.3,322.6 L705.9,330.7 L706.5,331.9 L707.4,332.7 L708.4,333.2 L709.5,333.5 L710.6,333.6 L711.8,333.5 L713.1,333.5 L719.1,334.3 L720.1,335.3 L720.7,336.7 L721.2,338.4 L721.6,340.2 L722.1,342.1 L722.7,343.7 L723.8,344.9 L731.9,345.7 L733.2,345.8 L734.3,346.1 L735.2,346.6 L735.9,347.3 L736.5,348.1 L737.0,349.2 L737.6,350.3 L740.6,355.7 L741.8,356.2 L743.4,356.4 L745.4,356.4 L747.6,356.3 L749.6,356.4 L751.2,357.1 L752.4,358.4 L754.7,365.7" fill="none" stroke="#5a5a5a" stroke-width="0.8" opacity="0.6"/>
<ellipse cx="725.1" cy="108.6" rx="8.0" ry="8.1" transform="rotate(45 725.1 108.6)" fill="#0b0b0b"/>
<g transform="translate(715.8,112.9) rotate(-122)">
<ellipse cx="0" cy="0" rx="13.1" ry="13.0" fill="url(#knotg)" stroke="#1d1d1d" stroke-width="0.8"/>
<path d="M-8.7,-9.0 Q-3.1,0 -8.7,9.0" fill="none" stroke="#efefef" stroke-width="1.97" opacity="0.92"/>
<path d="M-7.0,-8.6 Q-1.4,0 -7.0,8.6" fill="none" stroke="#141414" stroke-width="1.31" opacity="0.85"/>
<path d="M-4.3,-11.3 Q1.2,0 -4.3,11.3" fill="none" stroke="#efefef" stroke-width="1.97" opacity="0.92"/>
<path d="M-2.6,-10.8 Q2.9,0 -2.6,10.8" fill="none" stroke="#141414" stroke-width="1.31" opacity="0.85"/>
<path d="M0.0,-12.0 Q5.5,0 0.0,12.0" fill="none" stroke="#efefef" stroke-width="1.97" opacity="0.92"/>
<path d="M1.7,-11.4 Q7.2,0 1.7,11.4" fill="none" stroke="#141414" stroke-width="1.31" opacity="0.85"/>
<path d="M4.3,-11.3 Q9.8,0 4.3,11.3" fill="none" stroke="#efefef" stroke-width="1.97" opacity="0.92"/>
<path d="M6.0,-10.8 Q11.5,0 6.0,10.8" fill="none" stroke="#141414" stroke-width="1.31" opacity="0.85"/>
<path d="M8.4,-9.2 Q13.9,0 8.4,9.2" fill="none" stroke="#efefef" stroke-width="1.97" opacity="0.92"/>
<path d="M10.1,-8.8 Q15.6,0 10.1,8.8" fill="none" stroke="#141414" stroke-width="1.31" opacity="0.85"/>
</g>
<ellipse cx="665.9" cy="185.8" rx="6.0" ry="6.5" transform="rotate(28 665.9 185.8)" fill="#0b0b0b"/>
<g transform="translate(660.2,190.9) rotate(-139)">
<ellipse cx="0" cy="0" rx="9.8" ry="10.5" fill="url(#knotg)" stroke="#1d1d1d" stroke-width="0.8"/>
<path d="M-6.5,-7.3 Q-2.4,0 -6.5,7.3" fill="none" stroke="#efefef" stroke-width="1.48" opacity="0.92"/>
<path d="M-5.2,-6.9 Q-1.1,0 -5.2,6.9" fill="none" stroke="#141414" stroke-width="0.98" opacity="0.85"/>
<path d="M-3.2,-9.1 Q0.9,0 -3.2,9.1" fill="none" stroke="#efefef" stroke-width="1.48" opacity="0.92"/>
<path d="M-2.0,-8.7 Q2.2,0 -2.0,8.7" fill="none" stroke="#141414" stroke-width="0.98" opacity="0.85"/>
<path d="M0.0,-9.7 Q4.1,0 0.0,9.7" fill="none" stroke="#efefef" stroke-width="1.48" opacity="0.92"/>
<path d="M1.3,-9.2 Q5.4,0 1.3,9.2" fill="none" stroke="#141414" stroke-width="0.98" opacity="0.85"/>
<path d="M3.2,-9.1 Q7.4,0 3.2,9.1" fill="none" stroke="#efefef" stroke-width="1.48" opacity="0.92"/>
<path d="M4.5,-8.7 Q8.7,0 4.5,8.7" fill="none" stroke="#141414" stroke-width="0.98" opacity="0.85"/>
<path d="M6.3,-7.4 Q10.4,0 6.3,7.4" fill="none" stroke="#efefef" stroke-width="1.48" opacity="0.92"/>
<path d="M7.6,-7.1 Q11.7,0 7.6,7.1" fill="none" stroke="#141414" stroke-width="0.98" opacity="0.85"/>
</g>
<ellipse cx="647.2" cy="246.9" rx="5.0" ry="5.3" transform="rotate(5 647.2 246.9)" fill="#0b0b0b"/>
<g transform="translate(644.4,252.7) rotate(-162)">
<ellipse cx="0" cy="0" rx="8.2" ry="8.5" fill="url(#knotg)" stroke="#1d1d1d" stroke-width="0.8"/>
<path d="M-5.4,-5.9 Q-2.0,0 -5.4,5.9" fill="none" stroke="#efefef" stroke-width="1.23" opacity="0.92"/>
<path d="M-4.3,-5.6 Q-0.9,0 -4.3,5.6" fill="none" stroke="#141414" stroke-width="0.82" opacity="0.85"/>
<path d="M-2.7,-7.4 Q0.7,0 -2.7,7.4" fill="none" stroke="#efefef" stroke-width="1.23" opacity="0.92"/>
<path d="M-1.6,-7.1 Q1.8,0 -1.6,7.1" fill="none" stroke="#141414" stroke-width="0.82" opacity="0.85"/>
<path d="M0.0,-7.8 Q3.4,0 0.0,7.8" fill="none" stroke="#efefef" stroke-width="1.23" opacity="0.92"/>
<path d="M1.1,-7.5 Q4.5,0 1.1,7.5" fill="none" stroke="#141414" stroke-width="0.82" opacity="0.85"/>
<path d="M2.7,-7.4 Q6.1,0 2.7,7.4" fill="none" stroke="#efefef" stroke-width="1.23" opacity="0.92"/>
<path d="M3.8,-7.1 Q7.2,0 3.8,7.1" fill="none" stroke="#141414" stroke-width="0.82" opacity="0.85"/>
<path d="M5.2,-6.0 Q8.7,0 5.2,6.0" fill="none" stroke="#efefef" stroke-width="1.23" opacity="0.92"/>
<path d="M6.3,-5.7 Q9.8,0 6.3,5.7" fill="none" stroke="#141414" stroke-width="0.82" opacity="0.85"/>
</g>
<ellipse cx="661.3" cy="289.0" rx="4.2" ry="4.6" transform="rotate(-35 661.3 289.0)" fill="#0b0b0b"/>
<g transform="translate(662.7,294.2) rotate(-202)">
<ellipse cx="0" cy="0" rx="6.9" ry="7.4" fill="url(#knotg)" stroke="#1d1d1d" stroke-width="0.8"/>
<path d="M-4.5,-5.1 Q-1.7,0 -4.5,5.1" fill="none" stroke="#efefef" stroke-width="1.03" opacity="0.92"/>
<path d="M-3.7,-4.9 Q-0.8,0 -3.7,4.9" fill="none" stroke="#141414" stroke-width="0.70" opacity="0.85"/>
<path d="M-2.3,-6.4 Q0.6,0 -2.3,6.4" fill="none" stroke="#efefef" stroke-width="1.03" opacity="0.92"/>
<path d="M-1.4,-6.1 Q1.5,0 -1.4,6.1" fill="none" stroke="#141414" stroke-width="0.70" opacity="0.85"/>
<path d="M0.0,-6.8 Q2.9,0 0.0,6.8" fill="none" stroke="#efefef" stroke-width="1.03" opacity="0.92"/>
<path d="M0.9,-6.5 Q3.8,0 0.9,6.5" fill="none" stroke="#141414" stroke-width="0.70" opacity="0.85"/>
<path d="M2.3,-6.4 Q5.2,0 2.3,6.4" fill="none" stroke="#efefef" stroke-width="1.03" opacity="0.92"/>
<path d="M3.2,-6.1 Q6.1,0 3.2,6.1" fill="none" stroke="#141414" stroke-width="0.70" opacity="0.85"/>
<path d="M4.4,-5.2 Q7.3,0 4.4,5.2" fill="none" stroke="#efefef" stroke-width="1.03" opacity="0.92"/>
<path d="M5.3,-5.0 Q8.2,0 5.3,5.0" fill="none" stroke="#141414" stroke-width="0.70" opacity="0.85"/>
</g>
<ellipse cx="689.7" cy="315.8" rx="3.7" ry="3.8" transform="rotate(-50 689.7 315.8)" fill="#0b0b0b"/>
<g transform="translate(692.0,319.9) rotate(-217)">
<ellipse cx="0" cy="0" rx="6.1" ry="6.2" fill="url(#knotg)" stroke="#1d1d1d" stroke-width="0.8"/>
<path d="M-4.0,-4.3 Q-1.5,0 -4.0,4.3" fill="none" stroke="#efefef" stroke-width="0.91" opacity="0.92"/>
<path d="M-3.2,-4.1 Q-0.7,0 -3.2,4.1" fill="none" stroke="#141414" stroke-width="0.70" opacity="0.85"/>
<path d="M-2.0,-5.4 Q0.5,0 -2.0,5.4" fill="none" stroke="#efefef" stroke-width="0.91" opacity="0.92"/>
<path d="M-1.2,-5.2 Q1.3,0 -1.2,5.2" fill="none" stroke="#141414" stroke-width="0.70" opacity="0.85"/>
<path d="M0.0,-5.7 Q2.5,0 0.0,5.7" fill="none" stroke="#efefef" stroke-width="0.91" opacity="0.92"/>
<path d="M0.8,-5.5 Q3.3,0 0.8,5.5" fill="none" stroke="#141414" stroke-width="0.70" opacity="0.85"/>
<path d="M2.0,-5.4 Q4.6,0 2.0,5.4" fill="none" stroke="#efefef" stroke-width="0.91" opacity="0.92"/>
<path d="M2.8,-5.2 Q5.3,0 2.8,5.2" fill="none" stroke="#141414" stroke-width="0.70" opacity="0.85"/>
<path d="M3.9,-4.4 Q6.4,0 3.9,4.4" fill="none" stroke="#efefef" stroke-width="0.91" opacity="0.92"/>
<path d="M4.7,-4.2 Q7.2,0 4.7,4.2" fill="none" stroke="#141414" stroke-width="0.70" opacity="0.85"/>
</g>
<ellipse cx="715.9" cy="334.2" rx="3.2" ry="3.2" transform="rotate(-52 715.9 334.2)" fill="#0b0b0b"/>
<g transform="translate(718.0,337.7) rotate(-219)">
<ellipse cx="0" cy="0" rx="5.2" ry="5.2" fill="url(#knotg)" stroke="#1d1d1d" stroke-width="0.8"/>
<path d="M-3.5,-3.6 Q-1.3,0 -3.5,3.6" fill="none" stroke="#efefef" stroke-width="0.90" opacity="0.92"/>
<path d="M-2.8,-3.4 Q-0.6,0 -2.8,3.4" fill="none" stroke="#141414" stroke-width="0.70" opacity="0.85"/>
<path d="M-1.7,-4.5 Q0.5,0 -1.7,4.5" fill="none" stroke="#efefef" stroke-width="0.90" opacity="0.92"/>
<path d="M-1.0,-4.3 Q1.2,0 -1.0,4.3" fill="none" stroke="#141414" stroke-width="0.70" opacity="0.85"/>
<path d="M0.0,-4.8 Q2.2,0 0.0,4.8" fill="none" stroke="#efefef" stroke-width="0.90" opacity="0.92"/>
<path d="M0.7,-4.6 Q2.9,0 0.7,4.6" fill="none" stroke="#141414" stroke-width="0.70" opacity="0.85"/>
<path d="M1.7,-4.5 Q3.9,0 1.7,4.5" fill="none" stroke="#efefef" stroke-width="0.90" opacity="0.92"/>
<path d="M2.4,-4.3 Q4.6,0 2.4,4.3" fill="none" stroke="#141414" stroke-width="0.70" opacity="0.85"/>
<path d="M3.4,-3.7 Q5.6,0 3.4,3.7" fill="none" stroke="#efefef" stroke-width="0.90" opacity="0.92"/>
<path d="M4.0,-3.5 Q6.2,0 4.0,3.5" fill="none" stroke="#141414" stroke-width="0.70" opacity="0.85"/>
</g>
<ellipse cx="740.6" cy="351.5" rx="2.8" ry="2.8" transform="rotate(-52 740.6 351.5)" fill="#0b0b0b"/>
<g transform="translate(742.4,354.6) rotate(-219)">
<ellipse cx="0" cy="0" rx="4.6" ry="4.5" fill="url(#knotg)" stroke="#1d1d1d" stroke-width="0.8"/>
<path d="M-3.0,-3.1 Q-1.1,0 -3.0,3.1" fill="none" stroke="#efefef" stroke-width="0.90" opacity="0.92"/>
<path d="M-2.4,-3.0 Q-0.5,0 -2.4,3.0" fill="none" stroke="#141414" stroke-width="0.70" opacity="0.85"/>
<path d="M-1.5,-3.9 Q0.4,0 -1.5,3.9" fill="none" stroke="#efefef" stroke-width="0.90" opacity="0.92"/>
<path d="M-0.9,-3.7 Q1.0,0 -0.9,3.7" fill="none" stroke="#141414" stroke-width="0.70" opacity="0.85"/>
<path d="M0.0,-4.1 Q1.9,0 0.0,4.1" fill="none" stroke="#efefef" stroke-width="0.90" opacity="0.92"/>
<path d="M0.6,-4.0 Q2.5,0 0.6,4.0" fill="none" stroke="#141414" stroke-width="0.70" opacity="0.85"/>
<path d="M1.5,-3.9 Q3.4,0 1.5,3.9" fill="none" stroke="#efefef" stroke-width="0.90" opacity="0.92"/>
<path d="M2.1,-3.7 Q4.0,0 2.1,3.7" fill="none" stroke="#141414" stroke-width="0.70" opacity="0.85"/>
<path d="M2.9,-3.2 Q4.9,0 2.9,3.2" fill="none" stroke="#efefef" stroke-width="0.90" opacity="0.92"/>
<path d="M3.5,-3.0 Q5.5,0 3.5,3.0" fill="none" stroke="#141414" stroke-width="0.70" opacity="0.85"/>
</g>
</g>
<g id="globe1" transform="translate(519.2,51) scale(18.4,21)">
<circle cx="0" cy="0" r="1" fill="#ffffff" stroke="#cdd0db" stroke-width="0.04"/>
<path d="M-1.000,-0.381 L-0.973,-0.571 L-0.838,-0.738 L-0.649,-0.857 L-0.432,-0.943 L-0.243,-0.976 L-0.216,-0.952 L-0.162,-0.833 L-0.189,-0.762 L-0.108,-0.690 L-0.027,-0.738 L-0.043,-0.833 L0.027,-0.929 L0.189,-0.952 L0.259,-0.895 L0.324,-0.905 L0.378,-0.848 L0.459,-0.833 L0.568,-0.738 L0.486,-0.643 L0.378,-0.619 L0.324,-0.524 L0.243,-0.500 L0.189,-0.405 L0.108,-0.357 L0.054,-0.262 L-0.011,-0.214 L-0.043,-0.119 L-0.011,-0.071 L-0.081,-0.133 L-0.162,-0.167 L-0.270,-0.152 L-0.378,-0.167 L-0.443,-0.119 L-0.459,-0.048 L-0.405,0.024 L-0.297,0.048 L-0.216,0.010 L-0.162,0.038 L-0.189,0.105 L-0.108,0.133 L-0.027,0.152 L0.027,0.181 L-0.081,0.214 L-0.189,0.181 L-0.324,0.119 L-0.432,0.048 L-0.541,-0.024 L-0.622,-0.119 L-0.730,-0.214 L-0.838,-0.286 L-0.946,-0.333 Z" fill="#1f2a4b" stroke="#1f2a4b" stroke-width="0.02" stroke-linejoin="round"/><path d="M0.011,0.152 L0.108,0.086 L0.243,0.095 L0.378,0.133 L0.514,0.190 L0.649,0.286 L0.784,0.357 L0.854,0.419 L0.784,0.500 L0.703,0.571 L0.595,0.643 L0.486,0.690 L0.378,0.786 L0.270,0.881 L0.173,0.952 L0.070,0.990 L0.054,0.881 L0.054,0.762 L0.011,0.643 L-0.054,0.548 L-0.135,0.452 L-0.189,0.357 L-0.162,0.262 L-0.081,0.190 Z" fill="#1f2a4b" stroke="#1f2a4b" stroke-width="0.02" stroke-linejoin="round"/>
<ellipse cx="0.06" cy="-0.07" rx="0.07" ry="0.014" fill="#1f2a4b"/><ellipse cx="0.2" cy="-0.03" rx="0.035" ry="0.013" fill="#1f2a4b"/>
</g>
<g id="globe2" transform="translate(611,52.6) scale(15.8,17.4)">
<circle cx="0" cy="0" r="1" fill="#ffffff" stroke="#cdd0db" stroke-width="0.04"/>
<path d="M-1.000,-0.381 L-0.973,-0.571 L-0.838,-0.738 L-0.649,-0.857 L-0.432,-0.943 L-0.243,-0.976 L-0.216,-0.952 L-0.162,-0.833 L-0.189,-0.762 L-0.108,-0.690 L-0.027,-0.738 L-0.043,-0.833 L0.027,-0.929 L0.189,-0.952 L0.259,-0.895 L0.324,-0.905 L0.378,-0.848 L0.459,-0.833 L0.568,-0.738 L0.486,-0.643 L0.378,-0.619 L0.324,-0.524 L0.243,-0.500 L0.189,-0.405 L0.108,-0.357 L0.054,-0.262 L-0.011,-0.214 L-0.043,-0.119 L-0.011,-0.071 L-0.081,-0.133 L-0.162,-0.167 L-0.270,-0.152 L-0.378,-0.167 L-0.443,-0.119 L-0.459,-0.048 L-0.405,0.024 L-0.297,0.048 L-0.216,0.010 L-0.162,0.038 L-0.189,0.105 L-0.108,0.133 L-0.027,0.152 L0.027,0.181 L-0.081,0.214 L-0.189,0.181 L-0.324,0.119 L-0.432,0.048 L-0.541,-0.024 L-0.622,-0.119 L-0.730,-0.214 L-0.838,-0.286 L-0.946,-0.333 Z" fill="#1f2a4b" stroke="#1f2a4b" stroke-width="0.02" stroke-linejoin="round"/><path d="M0.011,0.152 L0.108,0.086 L0.243,0.095 L0.378,0.133 L0.514,0.190 L0.649,0.286 L0.784,0.357 L0.854,0.419 L0.784,0.500 L0.703,0.571 L0.595,0.643 L0.486,0.690 L0.378,0.786 L0.270,0.881 L0.173,0.952 L0.070,0.990 L0.054,0.881 L0.054,0.762 L0.011,0.643 L-0.054,0.548 L-0.135,0.452 L-0.189,0.357 L-0.162,0.262 L-0.081,0.190 Z" fill="#1f2a4b" stroke="#1f2a4b" stroke-width="0.02" stroke-linejoin="round"/>
<ellipse cx="0.06" cy="-0.07" rx="0.07" ry="0.014" fill="#1f2a4b"/><ellipse cx="0.2" cy="-0.03" rx="0.035" ry="0.013" fill="#1f2a4b"/>
</g>
<g id="globe3" transform="translate(715.6,51.3) scale(17.9,19.5)">
<circle cx="0" cy="0" r="1" fill="#ffffff" stroke="#cdd0db" stroke-width="0.04"/>
<path d="M-1.000,-0.381 L-0.973,-0.571 L-0.838,-0.738 L-0.649,-0.857 L-0.432,-0.943 L-0.243,-0.976 L-0.216,-0.952 L-0.162,-0.833 L-0.189,-0.762 L-0.108,-0.690 L-0.027,-0.738 L-0.043,-0.833 L0.027,-0.929 L0.189,-0.952 L0.259,-0.895 L0.324,-0.905 L0.378,-0.848 L0.459,-0.833 L0.568,-0.738 L0.486,-0.643 L0.378,-0.619 L0.324,-0.524 L0.243,-0.500 L0.189,-0.405 L0.108,-0.357 L0.054,-0.262 L-0.011,-0.214 L-0.043,-0.119 L-0.011,-0.071 L-0.081,-0.133 L-0.162,-0.167 L-0.270,-0.152 L-0.378,-0.167 L-0.443,-0.119 L-0.459,-0.048 L-0.405,0.024 L-0.297,0.048 L-0.216,0.010 L-0.162,0.038 L-0.189,0.105 L-0.108,0.133 L-0.027,0.152 L0.027,0.181 L-0.081,0.214 L-0.189,0.181 L-0.324,0.119 L-0.432,0.048 L-0.541,-0.024 L-0.622,-0.119 L-0.730,-0.214 L-0.838,-0.286 L-0.946,-0.333 Z" fill="#1f2a4b" stroke="#1f2a4b" stroke-width="0.02" stroke-linejoin="round"/><path d="M0.011,0.152 L0.108,0.086 L0.243,0.095 L0.378,0.133 L0.514,0.190 L0.649,0.286 L0.784,0.357 L0.854,0.419 L0.784,0.500 L0.703,0.571 L0.595,0.643 L0.486,0.690 L0.378,0.786 L0.270,0.881 L0.173,0.952 L0.070,0.990 L0.054,0.881 L0.054,0.762 L0.011,0.643 L-0.054,0.548 L-0.135,0.452 L-0.189,0.357 L-0.162,0.262 L-0.081,0.190 Z" fill="#1f2a4b" stroke="#1f2a4b" stroke-width="0.02" stroke-linejoin="round"/>
<ellipse cx="0.06" cy="-0.07" rx="0.07" ry="0.014" fill="#1f2a4b"/><ellipse cx="0.2" cy="-0.03" rx="0.035" ry="0.013" fill="#1f2a4b"/>
</g>
</svg>
<h1><span style="left:17.60px;top:32.8px;letter-spacing:0.400px;transform:scaleX(0.9500)">DISPOSICIÓN</span> <span style="left:158.52px;top:32.8px;letter-spacing:0.000px;transform:scaleX(0.9803)">A</span> <span style="left:178.64px;top:32.8px;letter-spacing:0.100px;transform:scaleX(0.9384)"><em>EMIGRAR</em></span> <span style="left:281.08px;top:32.8px;letter-spacing:0.000px;transform:scaleX(0.8400)">SI</span> <span style="left:302.40px;top:32.8px;letter-spacing:0.200px;transform:scaleX(0.9486)">TUVIERAN</span> <span style="left:17.20px;top:59.6px;letter-spacing:0.000px;transform:scaleX(0.9110)">LOS</span> <span style="left:66.10px;top:59.6px;letter-spacing:0.000px;transform:scaleX(0.9056)">RECURSOS,</span> <span style="left:191.08px;top:59.6px;letter-spacing:0.000px;transform:scaleX(0.8675)">SEGÚN</span> <span style="left:263.32px;top:59.6px;letter-spacing:0.000px;transform:scaleX(0.9708)">PAÍS.</span> </h1>
<div class="pct" style="left:42.6px;top:265.5px">46%</div><div class="pct" style="left:98.6px;top:265.5px">46%</div><div class="pct" style="left:155.4px;top:277.5px">44%</div><div class="pct" style="left:208.8px;top:295.1px">41%</div><div class="pct" style="left:264.6px;top:304.5px">40%</div><div class="pct" style="left:322.2px;top:304.5px">40%</div><div class="pct" style="left:378.0px;top:364.5px">30%</div><div class="pct" style="left:433.0px;top:372.5px">29%</div><div class="pct" style="left:488.4px;top:379.3px">28%</div><div class="pct" style="left:545.0px;top:386.1px">27%</div><div class="pct" style="left:600.8px;top:393.3px">26%</div><div class="pct" style="left:652.6px;top:398.9px">25%</div><div class="pct" style="left:711.8px;top:455.5px">16%</div>
<div class="lg" id="cid1" style="left:441.5px;top:25.6px;font-size:39px;line-height:42px;letter-spacing:2.1px;transform:scaleX(0.80)">CID</div>
<div class="sub" id="gal1" style="left:448.6px;top:61px;font-size:11px;line-height:14px;letter-spacing:1.55px;-webkit-text-stroke:0.25px currentColor">Gallup</div>
<div class="lg" id="cid2" style="left:546.8px;top:32px;font-size:30.5px;line-height:34px;letter-spacing:1.7px;transform:scaleX(0.82)">CID</div>
<div class="sub" id="lat" style="left:548px;top:60.5px;font-size:5.4px;line-height:8px;letter-spacing:0.75px">Latinoamérica</div>
<div class="lg" id="gal3" style="left:631.2px;top:39.3px;font-size:17.7px;line-height:20px;transform:scaleX(0.92)">GALLUP</div>
<div class="sub" id="pan" style="left:643.6px;top:56.3px;font-size:8.4px;line-height:11px;letter-spacing:0.2px;font-weight:bold;color:#565c6c">de Panamá</div>
</div>
</body>
</html>
